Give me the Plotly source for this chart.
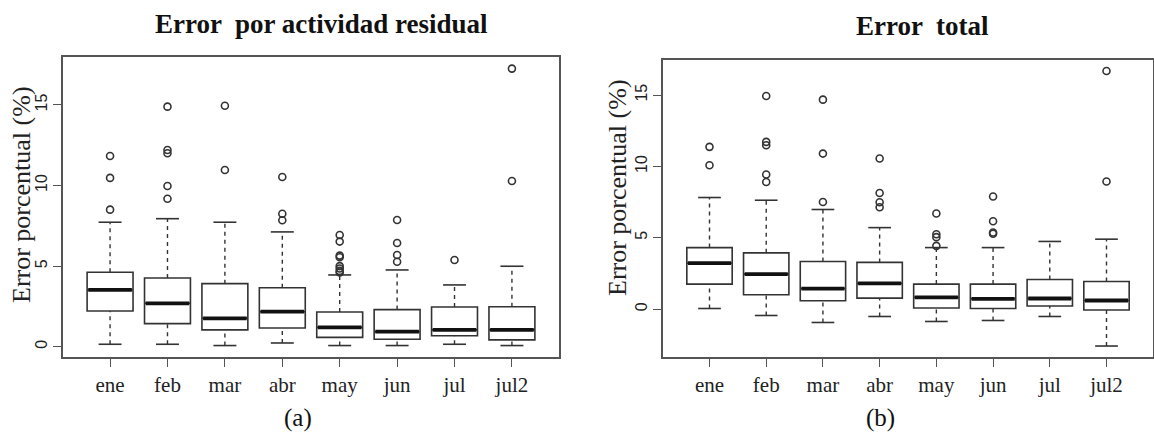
import plotly.graph_objects as go

categories = ["ene", "feb", "mar", "abr", "may", "jun", "jul", "jul2"]

# Panel (a): Error por actividad residual
a_q1 = [2.21, 1.43, 1.04, 1.16, 0.58, 0.46, 0.68, 0.42]
a_median = [3.52, 2.69, 1.76, 2.17, 1.20, 0.93, 1.04, 1.04]
a_q3 = [4.62, 4.26, 3.91, 3.66, 2.15, 2.30, 2.46, 2.48]
a_lower = [0.15, 0.15, 0.07, 0.23, 0.07, 0.07, 0.15, 0.07]
a_upper = [7.72, 7.94, 7.72, 7.12, 4.45, 4.76, 3.83, 4.99]
a_outliers = [
    [11.83, 10.47, 8.50],
    [14.89, 12.20, 12.00, 9.97, 9.18],
    [14.95, 10.96],
    [10.53, 8.25, 7.84],
    [6.93, 6.52, 5.65, 5.55, 5.00, 4.85, 4.70, 4.60],
    [7.86, 6.43, 5.69, 5.27],
    [5.38],
    [17.25, 10.28],
]

# Panel (b): Error total
b_q1 = [1.75, 1.00, 0.58, 0.77, 0.07, 0.04, 0.21, -0.07]
b_median = [3.22, 2.45, 1.44, 1.80, 0.82, 0.72, 0.74, 0.60]
b_q3 = [4.31, 3.94, 3.33, 3.27, 1.75, 1.75, 2.07, 1.93]
b_lower = [0.04, -0.45, -0.94, -0.52, -0.87, -0.80, -0.52, -2.59]
b_upper = [7.82, 7.63, 6.98, 5.71, 4.31, 4.31, 4.74, 4.90]
b_outliers = [
    [11.37, 10.08],
    [14.94, 11.72, 11.48, 9.43, 8.91],
    [14.68, 10.90, 7.51],
    [10.55, 8.14, 7.49, 7.14],
    [6.70, 5.25, 5.04, 4.43],
    [7.89, 6.16, 5.37, 5.28],
    [],
    [16.69, 8.94],
]

positions = list(range(1, len(categories) + 1))
BOXW = 0.8
CAPW = 0.4
INK = "#333333"

fig = go.Figure()


def add_panel(q1, med, q3, lo, hi, outs, xa, ya):
    fig.add_trace(go.Box(
        x=positions, q1=q1, median=med, q3=q3, lowerfence=q1, upperfence=q3,
        width=BOXW, fillcolor="white", line=dict(color=INK, width=1.6),
        boxpoints=False, xaxis=xa, yaxis=ya, showlegend=False, hoverinfo="skip",
    ))
    # dashed whiskers
    wx, wy = [], []
    for p, a, b, c, d in zip(positions, lo, q1, q3, hi):
        wx += [p, p, None, p, p, None]
        wy += [a, b, None, c, d, None]
    fig.add_trace(go.Scatter(x=wx, y=wy, mode="lines",
                             line=dict(color=INK, width=1.4, dash="4px,4px"),
                             xaxis=xa, yaxis=ya, showlegend=False, hoverinfo="skip"))
    # caps
    cx, cy = [], []
    for p, a, d in zip(positions, lo, hi):
        cx += [p - CAPW / 2, p + CAPW / 2, None, p - CAPW / 2, p + CAPW / 2, None]
        cy += [a, a, None, d, d, None]
    fig.add_trace(go.Scatter(x=cx, y=cy, mode="lines",
                             line=dict(color=INK, width=1.6),
                             xaxis=xa, yaxis=ya, showlegend=False, hoverinfo="skip"))
    # thick medians
    mx, my = [], []
    for p, m in zip(positions, med):
        mx += [p - BOXW / 2 + 0.02, p + BOXW / 2 - 0.02, None]
        my += [m, m, None]
    fig.add_trace(go.Scatter(x=mx, y=my, mode="lines",
                             line=dict(color="#111111", width=3.8),
                             xaxis=xa, yaxis=ya, showlegend=False, hoverinfo="skip"))
    # outliers
    ox, oy = [], []
    for p, vals in zip(positions, outs):
        for v in vals:
            ox.append(p)
            oy.append(v)
    fig.add_trace(go.Scatter(x=ox, y=oy, mode="markers",
                             marker=dict(symbol="circle-open", size=7,
                                         line=dict(color=INK, width=1.6), color=INK),
                             xaxis=xa, yaxis=ya, showlegend=False, hoverinfo="skip"))


add_panel(a_q1, a_median, a_q3, a_lower, a_upper, a_outliers, "x", "y")
add_panel(b_q1, b_median, b_q3, b_lower, b_upper, b_outliers, "x2", "y2")

W, H = 1154, 432

xcommon = dict(range=[0.18, 8.82], tickmode="array", tickvals=positions, ticktext=categories,
               showline=True, mirror=True, linecolor="#555555", linewidth=1.5,
               ticks="outside", ticklen=8, tickwidth=1.3, tickcolor="#555555",
               showgrid=False, zeroline=False,
               tickfont=dict(family="Liberation Serif, serif", size=21, color="#222222"))
ycommon = dict(tickmode="array", tickvals=[0, 5, 10, 15],
               showline=True, mirror=True, linecolor="#555555", linewidth=1.5,
               ticks="outside", ticklen=8, tickwidth=1.3, tickcolor="#555555",
               showgrid=False, zeroline=False, tickangle=-90,
               tickfont=dict(family="Liberation Sans, Arial, sans-serif", size=16, color="#222222"))

fig.update_layout(
    width=W, height=H, margin=dict(l=0, r=0, t=0, b=0),
    paper_bgcolor="white", plot_bgcolor="white",
    xaxis=dict(domain=[63 / W, 559 / W], anchor="y", **xcommon),
    yaxis=dict(domain=[(H - 357) / H, (H - 57) / H], range=[-0.64, 17.97], anchor="x", **ycommon),
    xaxis2=dict(domain=[663 / W, 1153 / W], anchor="y2", **xcommon),
    yaxis2=dict(domain=[(H - 357) / H, (H - 60) / H], range=[-3.36, 17.46], anchor="x2", **ycommon),
)

serif = "Liberation Serif, Times New Roman, serif"
annots = [
    dict(text="<b>Error  por actividad residual</b>", x=321 / W, y=(H - 24.5) / H,
         font=dict(family=serif, size=27, color="#111111")),
    dict(text="<b>Error  total</b>", x=922 / W, y=(H - 26.5) / H,
         font=dict(family=serif, size=27, color="#111111")),
    dict(text="Error porcentual (%)", x=22 / W, y=(H - 195) / H, textangle=-90,
         font=dict(family=serif, size=26, color="#222222")),
    dict(text="Error porcentual (%)", x=617 / W, y=(H - 188) / H, textangle=-90,
         font=dict(family=serif, size=26, color="#222222")),
    dict(text="(a)", x=298 / W, y=(H - 418) / H,
         font=dict(family=serif, size=25, color="#111111")),
    dict(text="(b)", x=880 / W, y=(H - 418) / H,
         font=dict(family=serif, size=25, color="#111111")),
]
for a in annots:
    fig.add_annotation(xref="paper", yref="paper", showarrow=False,
                       xanchor="center", yanchor="middle", **a)

fig.write_html("out.html")
